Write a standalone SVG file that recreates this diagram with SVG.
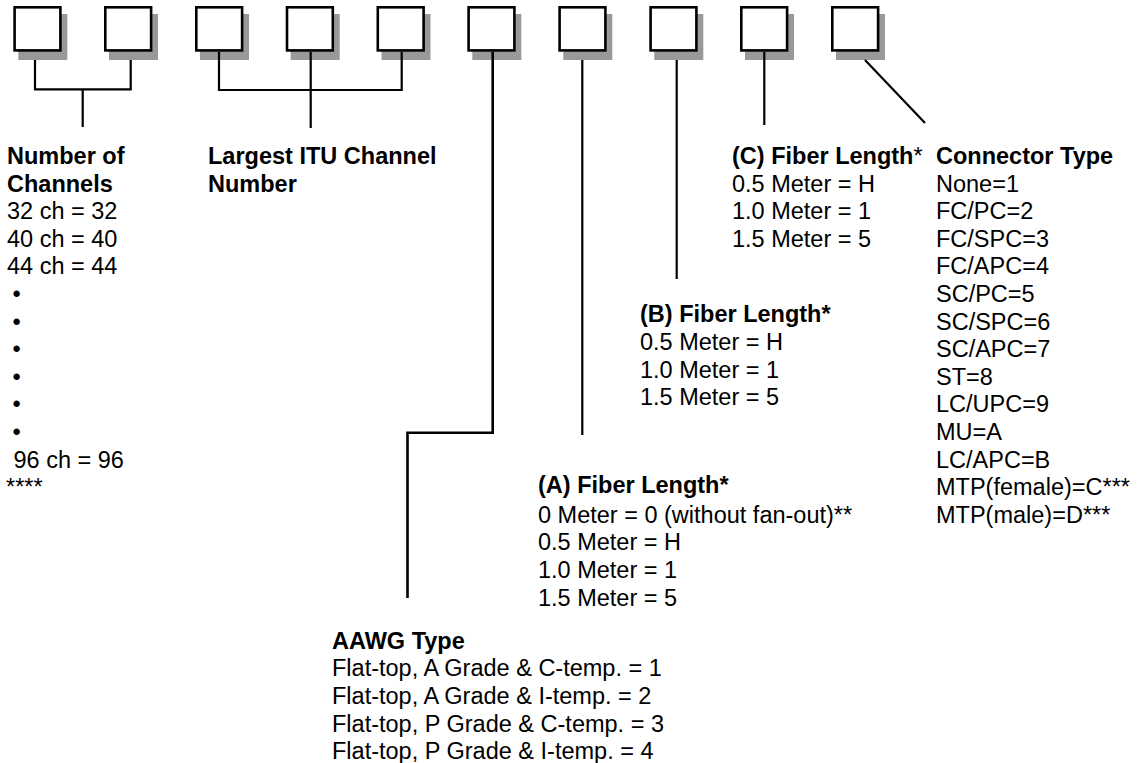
<svg xmlns="http://www.w3.org/2000/svg" width="1144" height="763" viewBox="0 0 1144 763">
<style>
.box{fill:#ffffff;stroke:#000000;stroke-width:2.6}
.sh{fill:#999999;stroke:none}
.ln{fill:none;stroke:#000000;stroke-width:2.2}
text{font-family:"Liberation Sans",Arial,sans-serif;font-size:23.5px;fill:#000000}
.b{font-weight:bold}
.n{font-weight:normal}
</style>
<g id="boxes">
<g id="box1"><rect class="sh" x="18.3" y="14" width="49" height="46"/><rect class="box" x="14.6" y="7.3" width="45.8" height="43.1"/></g>
<g id="box2"><rect class="sh" x="109" y="14" width="49" height="46"/><rect class="box" x="105.3" y="7.3" width="45.8" height="43.1"/></g>
<g id="box3"><rect class="sh" x="200" y="14" width="49" height="46"/><rect class="box" x="196.3" y="7.3" width="45.8" height="43.1"/></g>
<g id="box4"><rect class="sh" x="290.7" y="14" width="49" height="46"/><rect class="box" x="287" y="7.3" width="45.8" height="43.1"/></g>
<g id="box5"><rect class="sh" x="381.5" y="14" width="49" height="46"/><rect class="box" x="377.8" y="7.3" width="45.8" height="43.1"/></g>
<g id="box6"><rect class="sh" x="472.3" y="14" width="49" height="46"/><rect class="box" x="468.6" y="7.3" width="45.8" height="43.1"/></g>
<g id="box7"><rect class="sh" x="563.3" y="14" width="49" height="46"/><rect class="box" x="559.6" y="7.3" width="45.8" height="43.1"/></g>
<g id="box8"><rect class="sh" x="654.3" y="14" width="49" height="46"/><rect class="box" x="650.6" y="7.3" width="45.8" height="43.1"/></g>
<g id="box9"><rect class="sh" x="745" y="14" width="49" height="46"/><rect class="box" x="741.3" y="7.3" width="45.8" height="43.1"/></g>
<g id="box10"><rect class="sh" x="836" y="14" width="49" height="46"/><rect class="box" x="832.3" y="7.3" width="45.8" height="43.1"/></g>
</g>
<g id="connectors">
<path class="ln" d="M35 60V89.3H130.7V60M82.7 89.3V127"/>
<path class="ln" d="M219 52V90H401.7V52M310.7 52V128"/>
<path class="ln" style="stroke-width:2.6" d="M492.7 52V432.7H407.5V598"/>
<path class="ln" d="M582.3 60V435"/>
<path class="ln" d="M676.7 60V279"/>
<path class="ln" d="M764.3 52V125"/>
<path class="ln" d="M865 60L925 123"/>
</g>
<g id="channels">
<text class="b" x="7" y="164">Number of</text>
<text class="b" x="7" y="191.6">Channels</text>
<text x="7" y="219.2">32 ch = 32</text>
<text x="7" y="246.8">40 ch = 40</text>
<text x="7" y="274.4">44 ch = 44</text>
<text x="12.5" y="302">•</text>
<text x="12.5" y="329.6">•</text>
<text x="12.5" y="357.2">•</text>
<text x="12.5" y="384.8">•</text>
<text x="12.5" y="412.4">•</text>
<text x="12.5" y="440">•</text>
<text x="13.5" y="467.6">96 ch = 96</text>
<text x="6" y="495.2">****</text>
</g>
<g id="itu">
<text class="b" x="208" y="164">Largest ITU Channel</text>
<text class="b" x="208" y="191.6">Number</text>
</g>
<g id="fiberC">
<text class="b" x="732" y="164">(C) Fiber Length<tspan class="n">*</tspan></text>
<text x="732" y="191.6">0.5 Meter = H</text>
<text x="732" y="219.2">1.0 Meter = 1</text>
<text x="732" y="246.8">1.5 Meter = 5</text>
</g>
<g id="connector">
<text class="b" x="936" y="164">Connector Type</text>
<text x="936" y="191.6">None=1</text>
<text x="936" y="219.2">FC/PC=2</text>
<text x="936" y="246.8">FC/SPC=3</text>
<text x="936" y="274.4">FC/APC=4</text>
<text x="936" y="302">SC/PC=5</text>
<text x="936" y="329.6">SC/SPC=6</text>
<text x="936" y="357.2">SC/APC=7</text>
<text x="936" y="384.8">ST=8</text>
<text x="936" y="412.4">LC/UPC=9</text>
<text x="936" y="440">MU=A</text>
<text x="936" y="467.6">LC/APC=B</text>
<text x="936" y="495.2">MTP(female)=C***</text>
<text x="936" y="522.8">MTP(male)=D***</text>
</g>
<g id="fiberB">
<text class="b" x="640" y="322">(B) Fiber Length*</text>
<text x="640" y="350">0.5 Meter = H</text>
<text x="640" y="377.6">1.0 Meter = 1</text>
<text x="640" y="405.2">1.5 Meter = 5</text>
</g>
<g id="fiberA">
<text class="b" x="538" y="493">(A) Fiber Length*</text>
<text x="538" y="522.8">0 Meter = 0 (without fan-out)**</text>
<text x="538" y="550.4">0.5 Meter = H</text>
<text x="538" y="578">1.0 Meter = 1</text>
<text x="538" y="605.6">1.5 Meter = 5</text>
</g>
<g id="aawg">
<text class="b" x="332" y="648.8">AAWG Type</text>
<text x="332" y="676.4">Flat-top, A Grade &amp; C-temp. = 1</text>
<text x="332" y="704">Flat-top, A Grade &amp; I-temp. = 2</text>
<text x="332" y="731.6">Flat-top, P Grade &amp; C-temp. = 3</text>
<text x="332" y="759.2">Flat-top, P Grade &amp; I-temp. = 4</text>
</g>
</svg>
